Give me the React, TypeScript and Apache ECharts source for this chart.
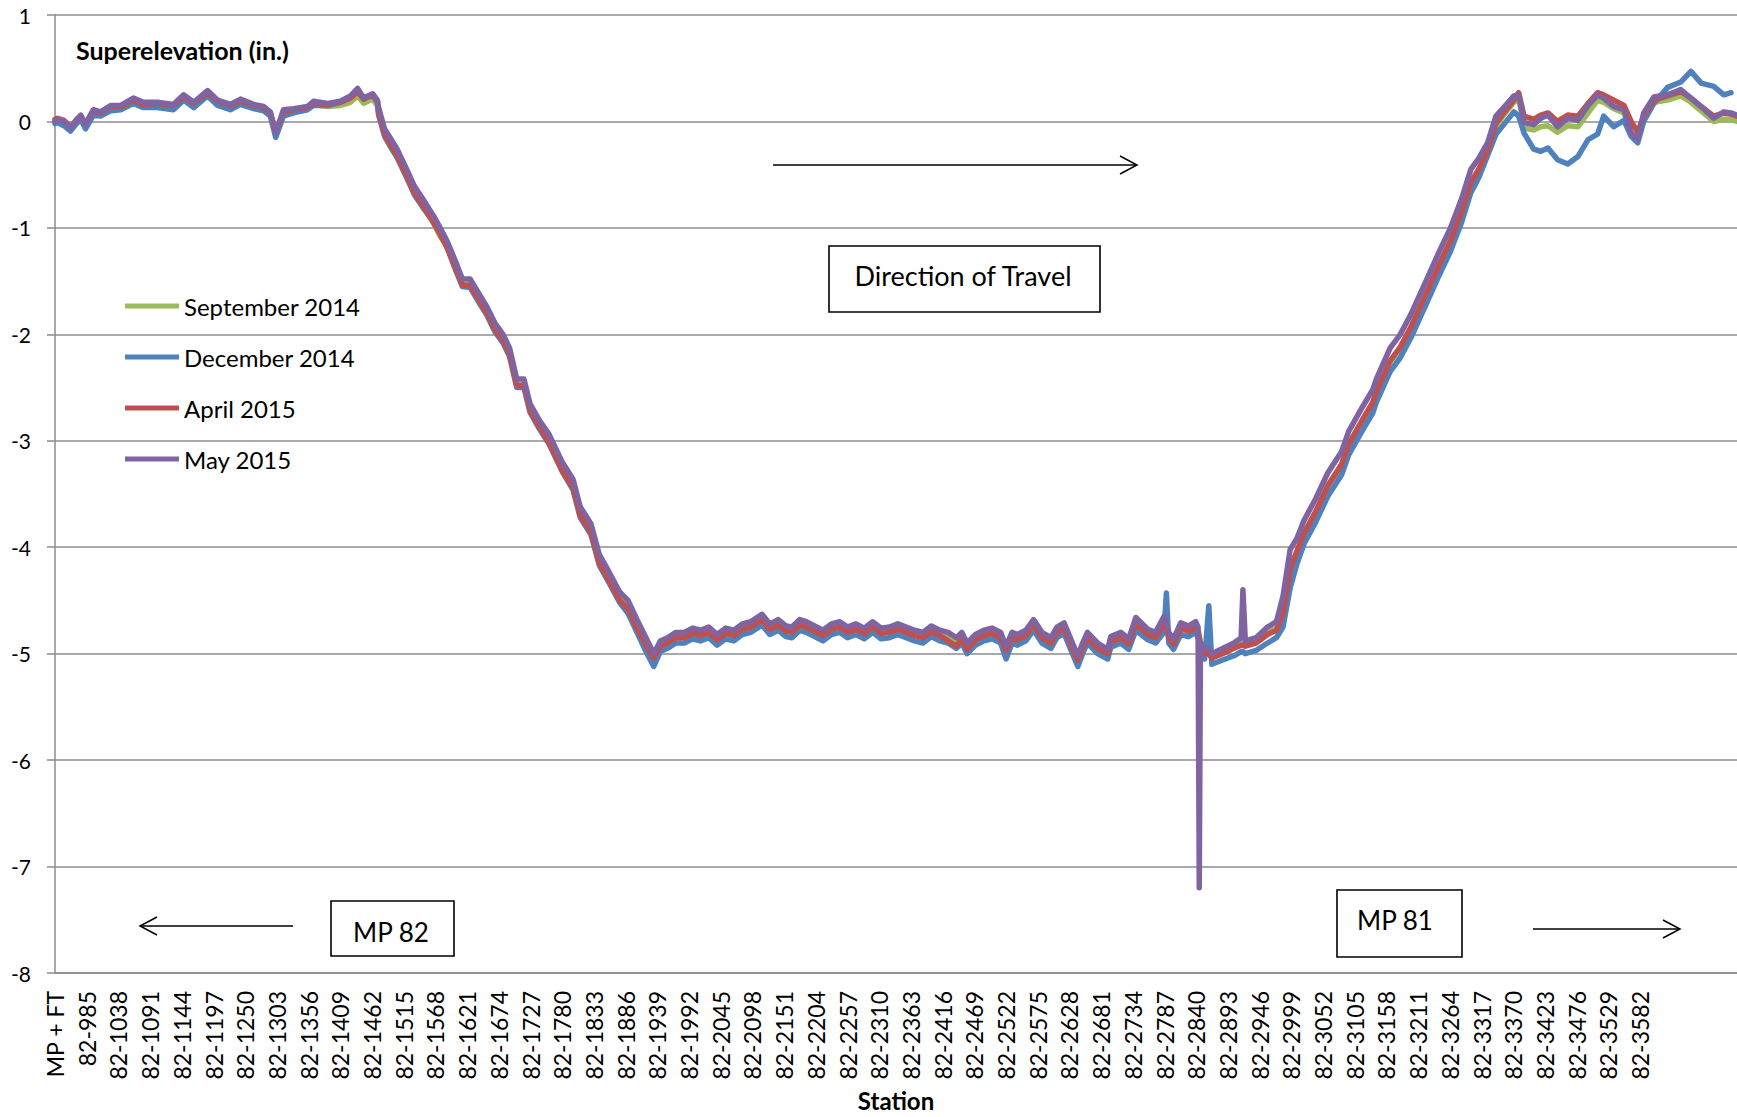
import React, { useEffect, useRef } from "react";
import * as echarts from "echarts";

// ---------- categories (stations) ----------
const HEADER_LABEL = "MP + FT";
const MILEPOST = "82";
const FIRST_STATION_FT = 933;
const STATION_COUNT = 2813;
const LABEL_STEP = 53;
const LAST_LABELLED_INDEX = 2650;

const categories: string[] = [HEADER_LABEL];
for (let i = 1; i < STATION_COUNT; i++) categories.push(`${MILEPOST}-${FIRST_STATION_FT + i - 1}`);

// ---------- y axis ----------
const Y_MIN = -8;
const Y_MAX = 1;
const Y_STEP = 1;

// ---------- sampled readings (category index of each reading) ----------
const sampleIdx = [
  0, 4, 15, 26, 36, 43, 51, 64, 76, 93, 110, 131, 148, 171, 198, 215, 232, 255, 272, 293, 310, 332, 349, 360, 369, 382, 399, 422, 432, 456, 477, 494, 506, 516, 531, 539,
  541, 551, 561, 572, 588, 601, 614, 632, 644, 656, 670, 681, 694, 711, 722, 736, 749, 760, 772, 784, 794, 810, 826, 848, 866, 878, 896, 910, 925, 944, 958, 973, 988, 1001,
  1012, 1024, 1038, 1052, 1066, 1079, 1093, 1107, 1121, 1135, 1149, 1163, 1182, 1195, 1209, 1222, 1232, 1245, 1256, 1270, 1284, 1298, 1312, 1325, 1339, 1353, 1367, 1381, 1395, 1409,
  1423, 1437, 1451, 1465, 1479, 1493, 1507, 1516, 1525, 1539, 1553, 1567, 1581, 1590, 1600, 1609, 1623, 1636, 1650, 1665, 1675, 1687, 1701, 1710, 1718, 1726, 1743, 1760, 1765, 1782,
  1795, 1807, 1827, 1840, 1854, 1858, 1862, 1870, 1882, 1895, 1907, 1911, 1913, 1915, 1922, 1929, 1934, 1952, 1971, 1983, 1986, 1990, 2008, 2027, 2042,
  2053, 2065, 2076, 2088, 2108, 2128, 2151, 2163, 2186, 2203, 2209, 2232, 2249, 2267, 2292, 2312, 2333, 2352, 2367, 2380, 2395,
  2409, 2422, 2439, 2447, 2456, 2472, 2484, 2496, 2512, 2529, 2546, 2563, 2579, 2589, 2606, 2623, 2635, 2646, 2656, 2673, 2696, 2718, 2735, 2752, 2773, 2790, 2802, 2812,
];

const sep2014 = [
  0.01, 0.02, 0.0, -0.06, 0.0, 0.04, -0.04, 0.09, 0.07, 0.13, 0.13, 0.19, 0.15, 0.16, 0.14, 0.22, 0.16, 0.26, 0.18, 0.14, 0.18, 0.14, 0.12, 0.07, -0.11, 0.08, 0.1, 0.12, 0.16, 0.14, 0.15, 0.18, 0.24, 0.17, 0.21, 0.15,
  0.09, -0.11, -0.21, -0.31, -0.5, -0.66, -0.77, -0.95, -1.08, -1.18, -1.37, -1.53, -1.53, -1.69, -1.79, -1.95, -2.05, -2.18, -2.47, -2.47, -2.7, -2.86, -3.0, -3.26, -3.42, -3.68, -3.84, -4.13, -4.28, -4.48, -4.56, -4.74, -4.9, -5.02,
  -4.91, -4.88, -4.83, -4.83, -4.79, -4.81, -4.78, -4.85, -4.79, -4.81, -4.75, -4.73, -4.66, -4.75, -4.71, -4.77, -4.78, -4.71, -4.73, -4.77, -4.81, -4.75, -4.73, -4.78, -4.75, -4.79, -4.73, -4.79, -4.78, -4.75,
  -4.78, -4.81, -4.83, -4.77, -4.81, -4.83, -4.88, -4.83, -4.93, -4.85, -4.81, -4.79, -4.83, -4.95, -4.83, -4.85, -4.81, -4.71, -4.83, -4.88, -4.78, -4.74, -4.93, -5.04, -4.93, -4.83, -4.93, -4.98, -4.87, -4.83,
  -4.89, -4.69, -4.8, -4.83, -4.68, -4.73, -4.83, -4.89, -4.74, -4.77, -4.73, -4.78, -4.82, -4.9, -4.98, -4.98, -5.02, -4.98, -4.93, -4.89, -4.89, -4.91, -4.88, -4.8, -4.76,
  -4.63, -4.22, -4.05, -3.88, -3.67, -3.43, -3.23, -3.04, -2.81, -2.65, -2.55, -2.26, -2.13, -1.94, -1.63, -1.38, -1.13, -0.85, -0.58, -0.46, -0.28,
  -0.04, 0.06, 0.18, 0.22, -0.06, -0.08, -0.05, -0.04, -0.1, -0.04, -0.05, 0.08, 0.2, 0.18, 0.12, 0.08, -0.1, -0.15, 0.03, 0.18, 0.2, 0.24, 0.18, 0.1, 0.0, 0.02, 0.02, 0.0,
];

const dec2014 = [
  -0.02, -0.01, -0.04, -0.09, -0.02, 0.02, -0.07, 0.06, 0.05, 0.1, 0.11, 0.17, 0.13, 0.13, 0.11, 0.2, 0.13, 0.24, 0.15, 0.11, 0.16, 0.12, 0.1, 0.05, -0.15, 0.05, 0.08, 0.11, 0.15, 0.15, 0.18, 0.23, 0.29, 0.21, 0.25, 0.18,
  0.06, -0.14, -0.24, -0.34, -0.53, -0.69, -0.8, -0.94, -1.05, -1.19, -1.4, -1.55, -1.56, -1.72, -1.82, -1.98, -2.08, -2.21, -2.5, -2.5, -2.73, -2.89, -3.03, -3.29, -3.46, -3.72, -3.88, -4.17, -4.32, -4.52, -4.62, -4.8, -4.98, -5.12,
  -4.98, -4.95, -4.9, -4.9, -4.86, -4.88, -4.85, -4.92, -4.86, -4.88, -4.82, -4.8, -4.73, -4.82, -4.78, -4.84, -4.85, -4.78, -4.8, -4.84, -4.88, -4.82, -4.8, -4.85, -4.82, -4.86, -4.8, -4.86, -4.85, -4.82,
  -4.85, -4.88, -4.9, -4.84, -4.88, -4.9, -4.95, -4.9, -5.0, -4.92, -4.88, -4.86, -4.9, -5.05, -4.9, -4.92, -4.88, -4.78, -4.9, -4.95, -4.85, -4.81, -5.0, -5.12, -5.0, -4.9, -5.0, -5.05, -4.94, -4.9,
  -4.96, -4.78, -4.87, -4.9, -4.8, -4.43, -4.9, -4.96, -4.82, -4.84, -4.8, -4.85, -4.9, -4.98, -5.05, -4.55, -5.1, -5.06, -5.02, -4.98, -4.98, -5.0, -4.97, -4.9, -4.85,
  -4.75, -4.38, -4.16, -3.97, -3.76, -3.52, -3.32, -3.13, -2.9, -2.74, -2.64, -2.35, -2.22, -2.03, -1.72, -1.47, -1.22, -0.94, -0.67, -0.53, -0.32,
  -0.12, -0.03, 0.09, 0.05, -0.11, -0.26, -0.28, -0.25, -0.36, -0.4, -0.33, -0.17, -0.12, 0.05, -0.05, 0.01, -0.14, -0.2, 0.0, 0.17, 0.32, 0.37, 0.47, 0.36, 0.33, 0.25, 0.27, null,
];

const apr2015 = [
  0.02, 0.03, 0.01, -0.05, 0.01, 0.05, -0.02, 0.1, 0.08, 0.14, 0.14, 0.2, 0.16, 0.17, 0.15, 0.23, 0.17, 0.27, 0.19, 0.15, 0.19, 0.15, 0.13, 0.08, -0.1, 0.09, 0.11, 0.13, 0.17, 0.16, 0.18, 0.22, 0.28, 0.21, 0.25, 0.19,
  0.08, -0.12, -0.22, -0.32, -0.51, -0.67, -0.78, -0.94, -1.06, -1.19, -1.38, -1.54, -1.54, -1.7, -1.8, -1.96, -2.06, -2.19, -2.48, -2.48, -2.71, -2.87, -3.02, -3.28, -3.44, -3.7, -3.86, -4.15, -4.3, -4.5, -4.58, -4.76, -4.92, -5.04,
  -4.93, -4.9, -4.85, -4.85, -4.81, -4.83, -4.8, -4.87, -4.81, -4.83, -4.77, -4.75, -4.68, -4.77, -4.73, -4.79, -4.8, -4.73, -4.75, -4.79, -4.83, -4.77, -4.75, -4.8, -4.77, -4.81, -4.75, -4.81, -4.8, -4.77,
  -4.8, -4.83, -4.85, -4.79, -4.83, -4.88, -4.93, -4.86, -4.96, -4.87, -4.83, -4.81, -4.85, -4.97, -4.85, -4.87, -4.83, -4.73, -4.85, -4.9, -4.8, -4.76, -4.95, -5.06, -4.95, -4.85, -4.95, -5.0, -4.89, -4.85,
  -4.91, -4.72, -4.82, -4.85, -4.72, -4.76, -4.85, -4.91, -4.76, -4.79, -4.75, -4.8, -4.85, -4.92, -5.0, -5.0, -5.04, -5.0, -4.95, -4.92, -4.92, -4.93, -4.9, -4.82, -4.78,
  -4.62, -4.2, -4.04, -3.87, -3.66, -3.42, -3.22, -3.03, -2.8, -2.64, -2.54, -2.25, -2.12, -1.93, -1.62, -1.37, -1.12, -0.84, -0.57, -0.45, -0.27,
  -0.02, 0.08, 0.2, 0.27, 0.05, 0.02, 0.06, 0.08, 0.0, 0.06, 0.05, 0.17, 0.27, 0.25, 0.2, 0.15, 0.0, -0.1, 0.05, 0.2, 0.24, 0.28, 0.22, 0.14, 0.05, 0.08, 0.07, 0.05,
];

const may2015 = [
  0.0, 0.02, 0.0, -0.06, 0.02, 0.06, -0.03, 0.11, 0.09, 0.15, 0.15, 0.22, 0.18, 0.18, 0.16, 0.25, 0.18, 0.29, 0.2, 0.16, 0.21, 0.16, 0.14, 0.09, -0.11, 0.11, 0.12, 0.14, 0.19, 0.17, 0.19, 0.24, 0.31, 0.22, 0.26, 0.2,
  0.13, -0.07, -0.16, -0.26, -0.45, -0.61, -0.72, -0.88, -1.0, -1.13, -1.32, -1.48, -1.48, -1.64, -1.74, -1.9, -2.0, -2.13, -2.42, -2.42, -2.65, -2.81, -2.94, -3.2, -3.36, -3.62, -3.78, -4.07, -4.22, -4.42, -4.5, -4.68, -4.85, -5.0,
  -4.88, -4.85, -4.8, -4.8, -4.76, -4.78, -4.75, -4.82, -4.76, -4.78, -4.72, -4.7, -4.63, -4.72, -4.68, -4.74, -4.75, -4.68, -4.7, -4.74, -4.78, -4.72, -4.7, -4.75, -4.72, -4.76, -4.7, -4.76, -4.75, -4.72,
  -4.75, -4.78, -4.8, -4.74, -4.78, -4.8, -4.85, -4.8, -4.9, -4.82, -4.78, -4.76, -4.8, -4.93, -4.8, -4.82, -4.78, -4.68, -4.8, -4.85, -4.75, -4.71, -4.9, -5.02, -4.9, -4.8, -4.9, -4.96, -4.84, -4.8,
  -4.86, -4.66, -4.77, -4.8, -4.65, -4.7, -4.8, -4.86, -4.71, -4.74, -4.7, -4.75, -7.2, -4.9, -4.95, -4.95, -5.0, -4.95, -4.9, -4.85, -4.4, -4.88, -4.85, -4.75, -4.7,
  -4.46, -4.02, -3.92, -3.75, -3.54, -3.3, -3.1, -2.91, -2.68, -2.52, -2.42, -2.13, -2.0, -1.81, -1.5, -1.25, -1.0, -0.72, -0.45, -0.35, -0.2,
  0.05, 0.13, 0.24, 0.25, -0.01, -0.03, 0.03, 0.06, -0.05, 0.03, 0.01, 0.15, 0.25, 0.22, 0.14, 0.11, -0.11, -0.17, 0.08, 0.23, 0.25, 0.3, 0.22, 0.14, 0.03, 0.09, 0.08, 0.06,
];

const seriesDefs = [
  { name: "September 2014", color: "#9BBB59", values: sep2014 },
  { name: "December 2014", color: "#4F81BD", values: dec2014 },
  { name: "April 2015", color: "#C0504D", values: apr2015 },
  { name: "May 2015", color: "#8064A2", values: may2015 },
];

const FONT = "Lato, 'Open Sans', sans-serif";
const GRID_COLOR = "#8C8C8C";

function arrowGraphics(x1: number, x2: number, y: number, headAtLeft: boolean) {
  const tip = headAtLeft ? x1 : x2;
  const back = headAtLeft ? x1 + 17 : x2 - 17;
  return [
    { type: "line", shape: { x1, y1: y, x2, y2: y }, style: { stroke: "#000", lineWidth: 1.5 } },
    {
      type: "polyline",
      shape: { points: [[back, y - 9], [tip, y], [back, y + 9]] },
      style: { stroke: "#000", lineWidth: 1.5, fill: "none" },
    },
  ];
}

function boxGraphic(x: number, y: number, w: number, h: number) {
  return { type: "rect", shape: { x, y, width: w, height: h }, style: { fill: "#fff", stroke: "#000", lineWidth: 1.6 } };
}

function textGraphic(text: string, x: number, y: number, size: number, bold = false, align = "center") {
  return {
    type: "text",
    x,
    y,
    style: {
      text,
      fill: "#000",
      font: `${bold ? "bold " : ""}${size}px ${FONT}`,
      textAlign: align,
      textVerticalAlign: "middle",
    },
  };
}

export default function App() {
  const ref = useRef<HTMLDivElement>(null);

  useEffect(() => {
    if (!ref.current) return;
    const chart = echarts.init(ref.current, undefined, { renderer: "svg" });
    const option = {
      animation: false,
      backgroundColor: "#fff",
      grid: { left: 55, top: 15, width: 1682, height: 958 },
      legend: {
        orient: "vertical",
        left: 125,
        top: 294,
        padding: 0,
        itemWidth: 54,
        itemHeight: 5,
        itemGap: 27,
        icon: "rect",
        selectedMode: false,
        textStyle: { fontFamily: FONT, fontSize: 24, color: "#000" },
        data: seriesDefs.map((s) => s.name),
      },
      xAxis: {
        type: "category",
        data: categories,
        boundaryGap: false,
        axisLine: { show: true, onZero: false, lineStyle: { color: GRID_COLOR, width: 1.5 } },
        axisTick: { show: false },
        splitLine: { show: false },
        axisLabel: {
          rotate: 90,
          margin: 18,
          fontFamily: FONT,
          fontSize: 23,
          color: "#000",
          interval: (index: number) => index % LABEL_STEP === 0 && index <= LAST_LABELLED_INDEX,
        },
      },
      yAxis: {
        type: "value",
        min: Y_MIN,
        max: Y_MAX,
        interval: Y_STEP,
        axisLine: { show: true, lineStyle: { color: GRID_COLOR, width: 1.5 } },
        axisTick: { show: true, length: 8, lineStyle: { color: GRID_COLOR, width: 1.5 } },
        splitLine: { show: true, lineStyle: { color: GRID_COLOR, width: 1.5 } },
        axisLabel: { margin: 24, fontFamily: FONT, fontSize: 21, color: "#000" },
      },
      series: seriesDefs.map((s) => ({
        name: s.name,
        type: "line",
        showSymbol: false,
        symbol: "none",
        color: s.color,
        lineStyle: { color: s.color, width: 5.5, cap: "round", join: "round" },
        data: sampleIdx.map((x, k) => [x, s.values[k]]),
      })),
      graphic: [
        textGraphic("Superelevation (in.)", 76, 50, 25, true, "left"),
        textGraphic("Station", 896, 1100, 24, true),
        ...arrowGraphics(773, 1137, 165, false),
        boxGraphic(829, 246, 271, 66),
        textGraphic("Direction of Travel", 963, 275, 27),
        ...arrowGraphics(140, 293, 926, true),
        boxGraphic(331, 901, 123, 55),
        textGraphic("MP 82", 391, 932, 26),
        boxGraphic(1337, 890, 125, 67),
        textGraphic("MP 81", 1395, 920, 26),
        ...arrowGraphics(1533, 1680, 929, false),
      ],
    };
    chart.setOption(option as any);
    return () => chart.dispose();
  }, []);

  return (
    <div
      ref={ref}
      style={{ position: "absolute", left: 0, top: 0, width: 1737, height: 1117, background: "#fff" }}
    />
  );
}
